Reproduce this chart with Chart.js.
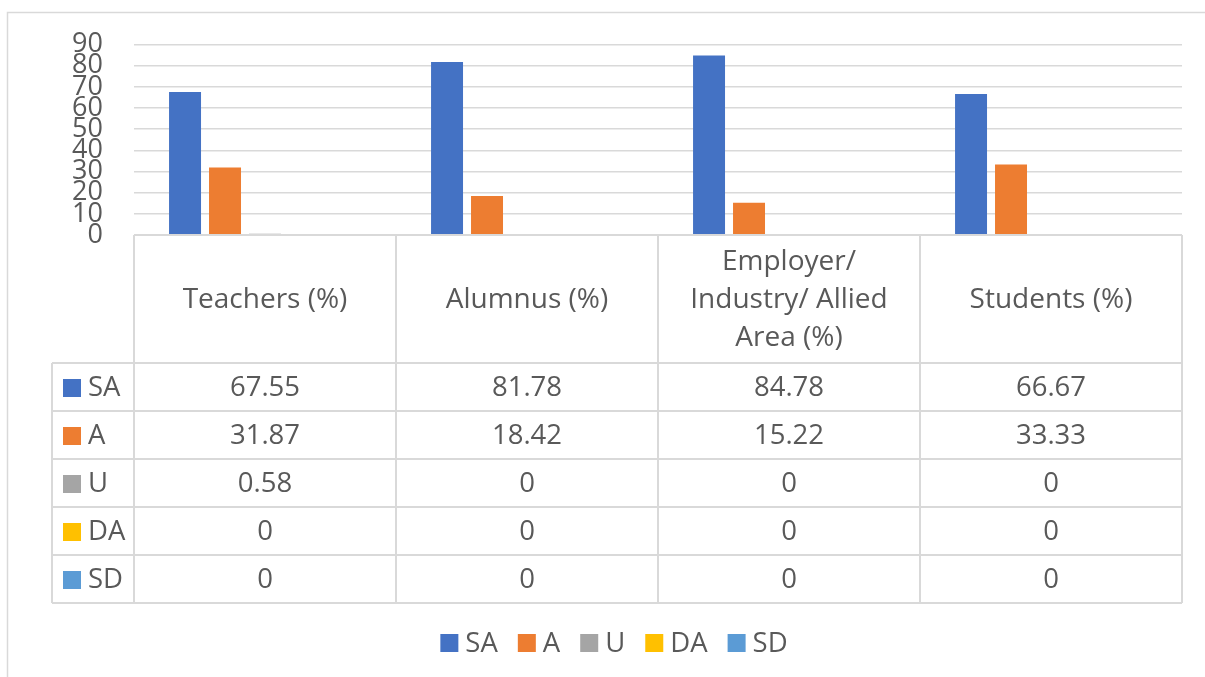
<!DOCTYPE html>
<html>
<head>
<meta charset="utf-8">
<script src="https://cdn.jsdelivr.net/npm/chart.js@4"></script>
<style>
html,body{margin:0;padding:0;background:#fff;}
canvas{display:block;}
</style>
</head>
<body>
<canvas id="c" width="1205" height="677"></canvas>
<script>
const categories = ['Teachers (%)', 'Alumnus (%)', ['Employer/', 'Industry/ Allied', 'Area (%)'], 'Students (%)'];
const seriesNames = ['SA', 'A', 'U', 'DA', 'SD'];
const seriesColors = ['#4472C4', '#ED7D31', '#A5A5A5', '#FFC000', '#5B9BD5'];
const saValues = [67.55, 81.78, 84.78, 66.67];
const aValues = [31.87, 18.42, 15.22, 33.33];
const uValues = [0.58, 0, 0, 0];
const daValues = [0, 0, 0, 0];
const sdValues = [0, 0, 0, 0];
const seriesValues = [saValues, aValues, uValues, daValues, sdValues];
const yMin = 0, yMax = 90, yStep = 10;

const FONT = "'Open Sans', 'DejaVu Sans', sans-serif";
const TEXT = '#595959';
const GRID = '#d9d9d9';
const HEADER_H = 128, ROW_H = 48, KEY_LEFT = 52;

const tablePlugin = {
  id: 'dataTable',
  beforeDraw(chart) {
    const ctx = chart.ctx;
    ctx.save();
    ctx.strokeStyle = GRID;
    ctx.lineWidth = 1.5;
    ctx.beginPath();
    ctx.moveTo(7.5, 677);
    ctx.lineTo(7.5, 12.5);
    ctx.lineTo(1205, 12.5);
    ctx.stroke();
    ctx.restore();
  },
  afterDraw(chart) {
    const ctx = chart.ctx;
    const ca = chart.chartArea;
    const xs = chart.scales.x;
    const n = categories.length;
    const half = (xs.getPixelForValue(1) - xs.getPixelForValue(0)) / 2;
    const top = ca.bottom;
    const rowsTop = top + HEADER_H;
    const bottom = rowsTop + ROW_H * seriesNames.length;
    ctx.save();
    ctx.strokeStyle = GRID;
    ctx.lineWidth = 2;
    ctx.beginPath();
    ctx.moveTo(ca.left, top); ctx.lineTo(ca.right, top);
    for (let i = 0; i <= n; i++) {
      const x = i < n ? xs.getPixelForValue(i) - half : xs.getPixelForValue(n - 1) + half;
      ctx.moveTo(x, top); ctx.lineTo(x, bottom);
    }
    ctx.moveTo(KEY_LEFT, rowsTop); ctx.lineTo(KEY_LEFT, bottom);
    for (let r = 0; r <= seriesNames.length; r++) {
      const y = rowsTop + r * ROW_H;
      ctx.moveTo(KEY_LEFT, y); ctx.lineTo(ca.right, y);
    }
    ctx.stroke();

    ctx.fillStyle = TEXT;
    ctx.font = '28px ' + FONT;
    ctx.textAlign = 'center';
    ctx.textBaseline = 'middle';
    const lineH = 38;
    categories.forEach((lab, i) => {
      const lines = Array.isArray(lab) ? lab : [lab];
      const cx = xs.getPixelForValue(i);
      const cy = top + HEADER_H / 2 + 1;
      lines.forEach((l, k) => {
        ctx.fillText(l, cx, cy + (k - (lines.length - 1) / 2) * lineH);
      });
    });
    ctx.font = '27.5px ' + FONT;
    seriesNames.forEach((name, r) => {
      const cy = rowsTop + r * ROW_H + ROW_H / 2 + 1;
      ctx.fillStyle = seriesColors[r];
      ctx.fillRect(63, cy - 9, 18, 18);
      ctx.fillStyle = TEXT;
      ctx.textAlign = 'left';
      ctx.fillText(name, 88, cy);
      ctx.textAlign = 'center';
      seriesValues[r].forEach((v, i) => {
        ctx.fillText(String(v), xs.getPixelForValue(i), cy);
      });
    });

    // legend
    ctx.font = '27.5px ' + FONT;
    ctx.textAlign = 'left';
    const box = 18, gapT = 7, gapItem = 20;
    const widths = seriesNames.map(s => box + gapT + ctx.measureText(s).width);
    const total = widths.reduce((a, b) => a + b, 0) + gapItem * (widths.length - 1);
    let x = 614 - total / 2;
    const ly = 643;
    seriesNames.forEach((s, i) => {
      ctx.fillStyle = seriesColors[i];
      ctx.fillRect(x, ly - 9, box, box);
      ctx.fillStyle = TEXT;
      ctx.fillText(s, x + box + gapT, ly + 1);
      x += widths[i] + gapItem;
    });
    ctx.restore();
  }
};

new Chart(document.getElementById('c'), {
  type: 'bar',
  data: {
    labels: categories,
    datasets: seriesNames.map((name, i) => ({
      label: name,
      data: seriesValues[i],
      backgroundColor: seriesColors[i],
      borderWidth: 0,
      categoryPercentage: 0.763,
      barPercentage: 0.8
    }))
  },
  options: {
    responsive: false,
    animation: false,
    devicePixelRatio: 1,
    layout: { padding: { top: 44, right: 23, left: 0, bottom: 74 } },
    plugins: { legend: { display: false }, tooltip: { enabled: false } },
    scales: {
      x: {
        afterFit: s => { s.height = 368; },
        ticks: { display: false },
        grid: { display: false },
        border: { display: false }
      },
      y: {
        min: yMin, max: yMax,
        afterFit: s => { s.width = 134; },
        ticks: { stepSize: yStep, autoSkip: false, padding: 31, color: TEXT, font: { family: FONT, size: 27, lineHeight: 1 } },
        grid: { color: GRID, lineWidth: 1.5, drawTicks: false },
        border: { display: false }
      }
    }
  },
  plugins: [tablePlugin]
});
</script>
</body>
</html>
